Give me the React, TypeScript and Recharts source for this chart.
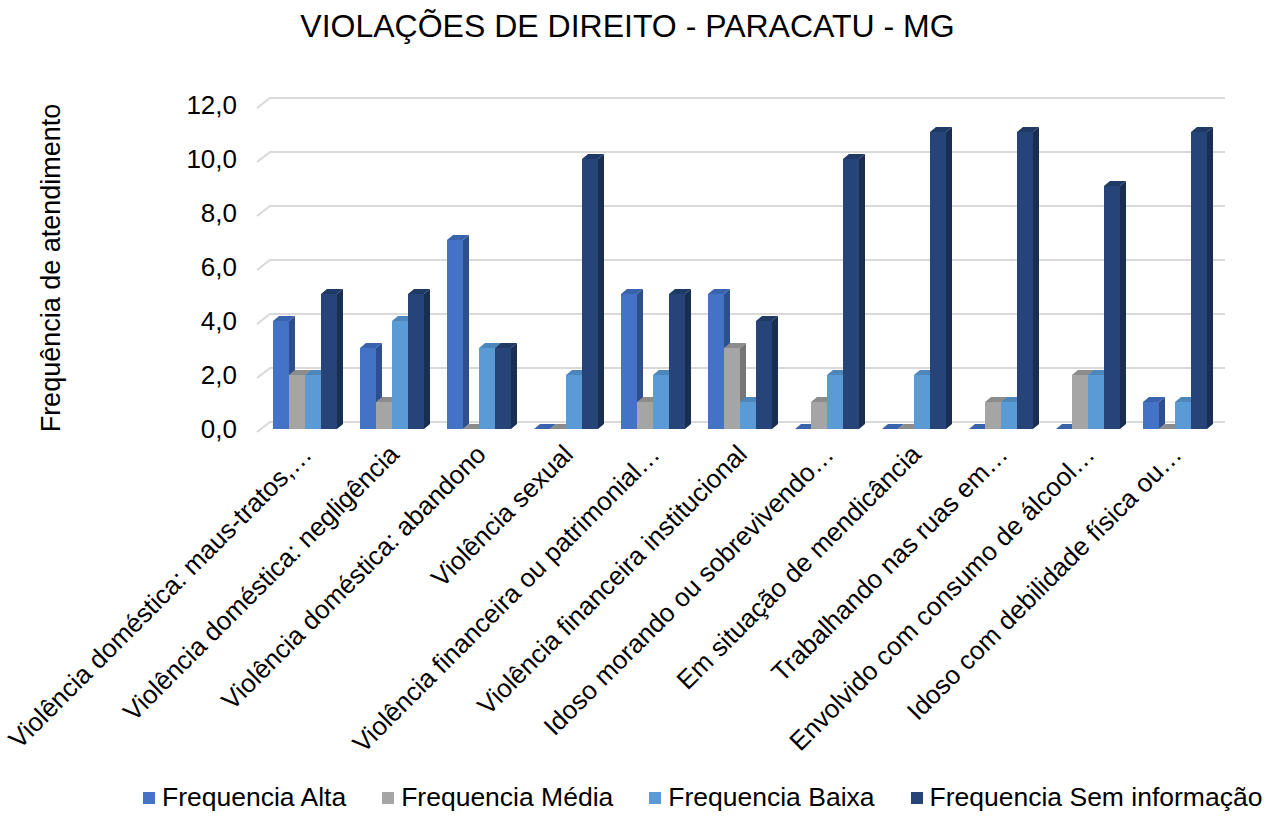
import React from 'react'
import { BarChart, Bar, XAxis, YAxis, CartesianGrid, Legend } from 'recharts'

const categories = [
  'Violência doméstica: maus-tratos,…',
  'Violência doméstica: negligência',
  'Violência doméstica: abandono',
  'Violência sexual',
  'Violência financeira ou patrimonial…',
  'Violência financeira institucional',
  'Idoso morando ou sobrevivendo…',
  'Em situação de mendicância',
  'Trabalhando nas ruas em…',
  'Envolvido com consumo de álcool…',
  'Idoso com debilidade física ou…',
]

const alta = [4, 3, 7, 0, 5, 5, 0, 0, 0, 0, 1]
const media = [2, 1, 0, 0, 1, 3, 1, 0, 1, 2, 0]
const baixa = [2, 4, 3, 2, 2, 1, 2, 2, 1, 2, 1]
const semInfo = [5, 5, 3, 10, 5, 4, 10, 11, 11, 9, 11]

const yTicks = [0, 2, 4, 6, 8, 10, 12]

const series = [
  { key: 'alta', name: 'Frequencia Alta', front: '#4472C4', side: '#2E4F8C', top: '#3A63AE' },
  { key: 'media', name: 'Frequencia Média', front: '#A5A5A5', side: '#767676', top: '#8C8C8C' },
  { key: 'baixa', name: 'Frequencia Baixa', front: '#5B9BD5', side: '#3F6F9C', top: '#4C86BA' },
  { key: 'sem', name: 'Frequencia Sem informação', front: '#264478', side: '#1A2E52', top: '#203A66' },
]

const data = categories.map((name, i) => ({
  name,
  alta: alta[i],
  media: media[i],
  baixa: baixa[i],
  sem: semInfo[i],
}))

const FONT = '"Liberation Sans", Arial, sans-serif'
const DX = 6
const DY = 5

function make3d(front: string, side: string, top: string) {
  // eslint-disable-next-line @typescript-eslint/no-explicit-any
  return (props: any) => {
    const { x, y, width: w, height: h } = props
    if (x == null || y == null) return <g />
    return (
      <g>
        <rect x={x} y={y} width={w} height={Math.max(h, 0)} fill={front} />
        <polygon
          points={`${x + w},${y} ${x + w + DX},${y - DY} ${x + w + DX},${y + h - DY} ${x + w},${y + h}`}
          fill={side}
        />
        <polygon
          points={`${x},${y} ${x + DX},${y - DY} ${x + w + DX},${y - DY} ${x + w},${y}`}
          fill={top}
        />
      </g>
    )
  }
}

// eslint-disable-next-line @typescript-eslint/no-explicit-any
const gridLine = (p: any) => (
  <path
    key={p.key}
    d={`M${p.x1 - 4},${p.y1 + 3} L${p.x1 + 9},${p.y1 - 7} L${p.x2 + 7},${p.y1 - 7}`}
    stroke="#d9d9d9"
    strokeWidth={2}
    fill="none"
  />
)

// eslint-disable-next-line @typescript-eslint/no-explicit-any
const CategoryTick = ({ x, y, payload }: any) => {
  const tx = x + 9
  const ty = y + 27
  return (
    <text
      x={tx}
      y={ty}
      transform={`rotate(-45 ${tx} ${ty})`}
      textAnchor="end"
      fontSize={26}
      fontFamily={FONT}
      fill="#000"
    >
      {payload.value}
    </text>
  )
}

const LegendContent = () => (
  <div
    style={{
      display: 'flex',
      justifyContent: 'flex-start',
      alignItems: 'center',
      gap: 36,
      fontFamily: FONT,
      fontSize: 26.5,
      color: '#000',
      paddingLeft: 143,
      whiteSpace: 'nowrap',
      width: 1274,
      boxSizing: 'border-box',
    }}
  >
    {series.map((s) => (
      <div key={s.key} style={{ display: 'flex', alignItems: 'center', flexShrink: 0 }}>
        <span style={{ width: 12, height: 12, background: s.front, marginRight: 7, display: 'inline-block' }} />
        <span style={{ whiteSpace: 'nowrap' }}>{s.name}</span>
      </div>
    ))}
  </div>
)

export default function App() {
  return (
    <div style={{ position: 'absolute', left: 0, top: 0, width: 1274, height: 816, background: '#fff' }}>
      <div
        style={{
          position: 'absolute',
          left: 0,
          top: 8,
          width: 1255,
          textAlign: 'center',
          fontFamily: FONT,
          fontSize: 32,
          color: '#000',
        }}
      >
        VIOLAÇÕES DE DIREITO - PARACATU - MG
      </div>
      <BarChart
        width={1274}
        height={816}
        data={data}
        margin={{ top: 105, right: 56, left: 90, bottom: 57 }}
        barGap={0}
        barSize={16}
      >
        <CartesianGrid vertical={false} horizontal={gridLine} />
        <XAxis
          dataKey="name"
          interval={0}
          height={330}
          tickSize={0}
          tickMargin={0}
          axisLine={false}
          tickLine={false}
          tick={<CategoryTick />}
        />
        <YAxis
          width={171}
          domain={[0, 12]}
          ticks={yTicks}
          axisLine={false}
          tickLine={false}
          tickSize={0}
          tickMargin={24}
          tickFormatter={(v: number) => v.toFixed(1).replace('.', ',')}
          tick={{ fontSize: 26, fontFamily: FONT, fill: '#000' }}
          label={{
            position: 'insideLeft',
            content: () => (
              <text
                x={60}
                y={268}
                transform="rotate(-90 60 268)"
                textAnchor="middle"
                fontSize={27}
                fontFamily={FONT}
                fill="#000"
              >
                Frequência de atendimento
              </text>
            ),
          }}
        />
        <Legend
          layout="horizontal"
          verticalAlign="middle"
          align="center"
          wrapperStyle={{ top: 782, left: 0, width: 1274 }}
          content={<LegendContent />}
        />
        {series.map((s) => (
          <Bar
            key={s.key}
            dataKey={s.key}
            name={s.name}
            fill={s.front}
            isAnimationActive={false}
            shape={make3d(s.front, s.side, s.top)}
          />
        ))}
      </BarChart>
    </div>
  )
}
